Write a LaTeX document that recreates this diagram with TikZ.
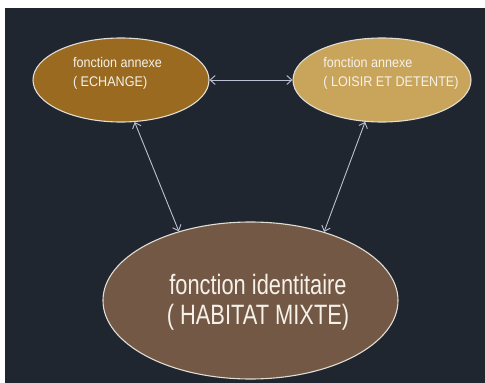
\documentclass[tikz,border=0pt]{standalone}
\usepackage{fontspec}
\setmainfont{Liberation Sans}
\newfontfamily\annexfont[FakeStretch=0.9]{Liberation Sans}
\newfontfamily\identfont[FakeStretch=0.78]{Liberation Sans}
\usetikzlibrary{arrows.meta,positioning,shapes.geometric,calc}
\definecolor{nightbg}{HTML}{1F2630}
\definecolor{ochre}{HTML}{9A6A20}
\definecolor{sand}{HTML}{C9A55C}
\definecolor{umber}{HTML}{735845}
\definecolor{rim}{HTML}{E2DDD2}
\definecolor{wire}{HTML}{BCC0D2}
\definecolor{ink}{HTML}{F6F2EA}

\begin{document}
\begin{tikzpicture}[x=1pt,y=-1pt,
  oval/.style={ellipse,draw=rim,line width=1.1pt,inner sep=0pt},
  lbl/.style={text=ink,inner sep=0pt},
  link/.style={draw=wire,line width=0.9pt,{Straight Barb[length=5pt,width=9pt]}-{Straight Barb[length=5pt,width=9pt]}}]
  \useasboundingbox (0,0) rectangle (485,383);
  \fill[white] (0,0) rectangle (485,383);
  \fill[nightbg] (5,8) rectangle (485,383);

  % the three functions
  \node[oval,fill=ochre,minimum width=176pt,minimum height=84pt] (ech) at (121,80) {};
  \node[oval,fill=sand,minimum width=178pt,minimum height=84pt] (loi) at (382,80) {};
  \node[oval,fill=umber,minimum width=295pt,minimum height=157pt] (hab) at (250.5,300.5) {};

  \node[lbl,align=left,font=\annexfont\fontsize{14}{19}\selectfont] (ech-txt) at (117.5,73)
       {fonction annexe\\( ECHANGE)};
  \node[lbl,align=left,font=\annexfont\fontsize{14}{19}\selectfont] (loi-txt) at (391,73)
       {fonction annexe\\( LOISIR ET DETENTE)};
  \node[lbl,align=center,font=\identfont\fontsize{28}{30}\selectfont] (hab-txt) at (258,302)
       {fonction identitaire\\( HABITAT MIXTE)};

  % links
  \draw[link] (ech.east) -- (loi.west);
  \draw[link] (ech.-72) -- (hab.136);
  \draw[link] (loi.-112) -- (hab.43);
\end{tikzpicture}
\end{document}
